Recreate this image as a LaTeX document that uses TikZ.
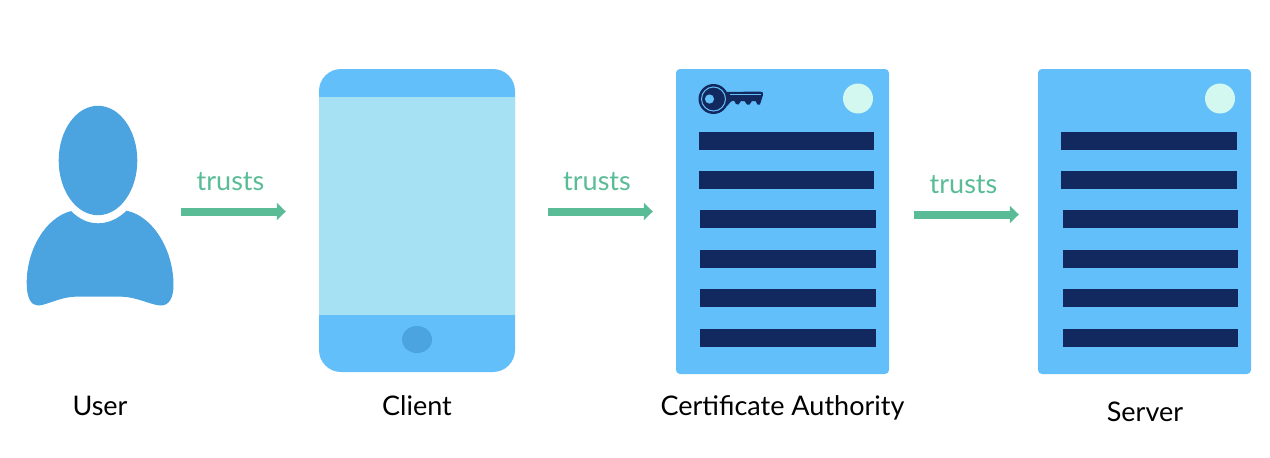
\documentclass[tikz,border=0pt]{standalone}
\usepackage{fontspec}
\setmainfont{Lato}
\usetikzlibrary{arrows.meta}
\definecolor{personblue}{HTML}{4BA3DF}
\definecolor{panelblue}{HTML}{62BFFA}
\definecolor{screenblue}{HTML}{A5E1F2}
\definecolor{barnavy}{HTML}{12295F}
\definecolor{trustgreen}{HTML}{5ABC97}
\definecolor{ledmint}{HTML}{D2F8EF}
\tikzset{
  caption/.style={font=\fontsize{27}{30}\selectfont, text=black, inner sep=0pt, anchor=base},
  trustlabel/.style={font=\fontsize{27}{30}\selectfont, text=trustgreen, inner sep=0pt, anchor=base},
  trustarrow/.style={draw=trustgreen, line width=8pt, -{Triangle[length=9pt,width=17pt]}},
  serverbox/.style={rectangle, fill=panelblue, rounded corners=4pt, minimum width=213pt, minimum height=305pt, inner sep=0pt},
  bar/.style={fill=barnavy},
  led/.style={fill=ledmint}
}
\begin{document}
\begin{tikzpicture}[x=1pt,y=-1pt]
\useasboundingbox (0,0) rectangle (1270,458);
% user
\node[minimum width=146pt,minimum height=199pt,inner sep=0pt] (user) at (100,205.5) {};
\fill[personblue] (98,160.5) ellipse [x radius=39.3,y radius=54.7];
\fill[personblue] (71,211)
  .. controls (45,218) and (26.7,250) .. (26.7,283)
  .. controls (26.7,298) and (31,305.5) .. (38,305.5)
  .. controls (46,305.5) and (60,297) .. (75,296.7)
  -- (122,296.7)
  .. controls (137,297) and (152,305.5) .. (161,305.5)
  .. controls (169,305.5) and (173.5,298) .. (173.5,285)
  .. controls (173.5,250) and (153,216) .. (126.5,210.7)
  .. controls (118,219) and (108,223.3) .. (98,223.3)
  .. controls (88,223.3) and (79,219) .. (71,211) -- cycle;
% client
\node[rectangle,fill=panelblue,rounded corners=22pt,minimum width=196pt,minimum height=303pt,inner sep=0pt] (client) at (417,220.5) {};
\fill[screenblue] (319,97) rectangle (515,315);
\fill[personblue] (417,339.5) ellipse [x radius=15,y radius=13.5];
% certificate authority
\node[serverbox] (ca) at (782.5,221.5) {};
\fill[led] (858,98.5) circle [radius=15];
\foreach \xa/\xb/\yy in {699/874/132,699/874/171,700/876/210,700/876/250,700/876/289,700/876/329}
  \fill[bar] (\xa,\yy) rectangle (\xb,\yy+18);
% key
\fill[barnavy] (713.5,99) circle [radius=15];
\draw[panelblue,line width=1pt] (713.5,99) circle [radius=12];
\fill[panelblue] (709.5,99) circle [radius=4.6];
\fill[barnavy] (727,92) -- (760,91.5) .. controls (763,91.5) and (763.5,93) .. (763,95)
  -- (760,104.5) -- (757.5,104.5) -- (755.5,101) -- (752,101) -- (749.5,104.5) -- (747,104.5)
  -- (744.5,101) -- (741,101) -- (738.5,104.5) -- (736,104) -- (734,100.5) -- (731,101.5) -- (727,106) -- cycle;
\draw[panelblue,line width=0.9pt] (730,94.5) -- (761,94.5);
% server
\node[serverbox] (server) at (1144.5,221.5) {};
\fill[led] (1220,98.5) circle [radius=15];
\foreach \xa/\xb/\yy in {1061/1237/132,1061/1237/171,1063/1238/210,1063/1238/250,1063/1238/289,1063/1238/329}
  \fill[bar] (\xa,\yy) rectangle (\xb,\yy+18);
% connectors
\draw[trustarrow,shorten <=8pt,shorten >=33pt] ([yshift=-6pt]user.east) -- ([yshift=9pt]client.west);
\draw[trustarrow,shorten <=33pt,shorten >=23pt] ([yshift=9pt]client.east) -- ([yshift=10pt]ca.west);
\draw[trustarrow,shorten <=25pt,shorten >=19pt] ([yshift=7pt]ca.east) -- ([yshift=7pt]server.west);
% labels
\node[trustlabel] (t1) at (230.5,190) {trusts};
\node[trustlabel] (t2) at (597,190) {trusts};
\node[trustlabel] (t3) at (963.5,193) {trusts};
\node[caption] (l1) at (100,415) {User};
\node[caption] (l2) at (417,415) {Client};
\node[caption] (l3) at (782.5,415) {Certificate Authority};
\node[caption] (l4) at (1145,421) {Server};
\end{tikzpicture}
\end{document}
